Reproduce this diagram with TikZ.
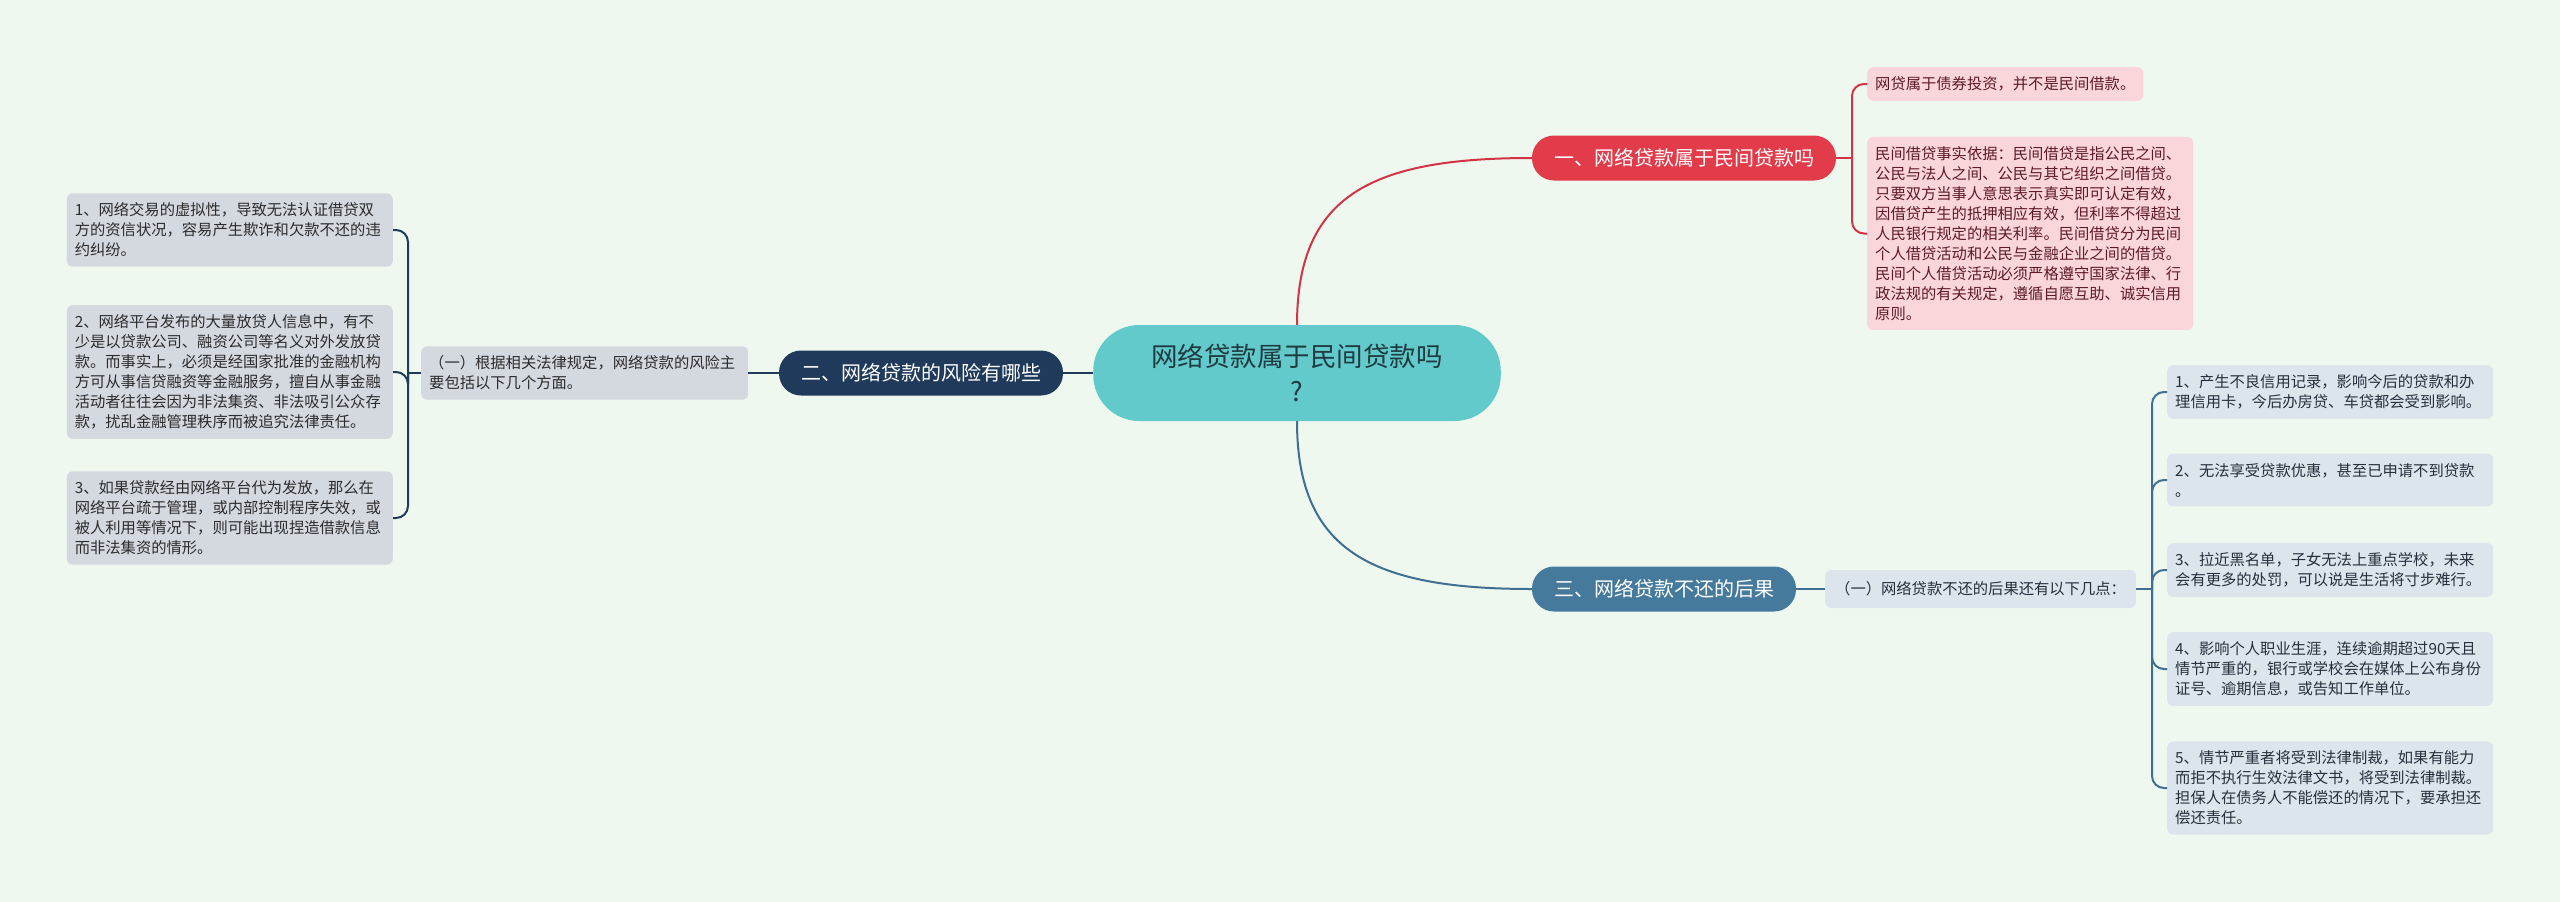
\documentclass[tikz,border=0pt]{standalone}
\usepackage{fontspec}
\newfontfamily\cjk{Noto Sans CJK SC}
\definecolor{bgc}{HTML}{EFF8EF}
\definecolor{centralc}{HTML}{62CACB}
\definecolor{centraltext}{HTML}{1F3A40}
\definecolor{redc}{HTML}{E23C4B}
\definecolor{redline}{HTML}{D23445}
\definecolor{redleafc}{HTML}{FAD5DA}
\definecolor{redtext}{HTML}{5E1B26}
\definecolor{navyc}{HTML}{1F3A5B}
\definecolor{greyc}{HTML}{D4D8DF}
\definecolor{greytext}{HTML}{2C2C2C}
\definecolor{steelc}{HTML}{467A9C}
\definecolor{steelline}{HTML}{3F6F92}
\definecolor{bluec}{HTML}{DCE4EC}
\definecolor{bluetext}{HTML}{26303C}
\begin{document}
\begin{tikzpicture}[x=1pt,y=-1pt,
  base/.style={font=\cjk\fontsize{15.3pt}{20pt}\selectfont, inner xsep=8pt, inner ysep=9.5pt, rounded corners=6pt, align=left},
  wide/.style={text width=310pt},
  redleaf/.style={base, fill=redleafc, text=redtext},
  greyleaf/.style={base, fill=greyc, text=greytext},
  blueleaf/.style={base, fill=bluec, text=bluetext},
  topic/.style={font=\cjk\fontsize{20pt}{24pt}\selectfont, text=white, inner xsep=22pt, inner ysep=0pt, minimum height=45pt, rounded corners=22pt},
  rl/.style={draw=redline, line width=2pt},
  nl/.style={draw=navyc, line width=2pt},
  sl/.style={draw=steelline, line width=2pt},
  br/.style={rounded corners=12pt}
]
\fill[bgc] (0,0) rectangle (2560,902);
\useasboundingbox (0,0) rectangle (2560,902);

% central
\node[fill=centralc, text=centraltext, font=\cjk\fontsize{26.5pt}{35pt}\selectfont, align=center, inner xsep=58pt, inner ysep=0pt, minimum height=96pt, rounded corners=46pt] (central) at (1297,373) {网络贷款属于民间贷款吗\\?};

% topics
\node[topic, fill=redc] (t1) at (1684,158) {一、网络贷款属于民间贷款吗};
\node[topic, fill=navyc] (t2) at (921,373) {二、网络贷款的风险有哪些};
\node[topic, fill=steelc] (t3) at (1664,589) {三、网络贷款不还的后果};

% red leaves
\node[redleaf, anchor=west] (r1) at (1867,84) {网贷属于债券投资，并不是民间借款。};
\node[redleaf, wide, anchor=west] (r2) at (1867,233.5) {民间借贷事实依据：民间借贷是指公民之间、\\公民与法人之间、公民与其它组织之间借贷。\\只要双方当事人意思表示真实即可认定有效，\\因借贷产生的抵押相应有效，但利率不得超过\\人民银行规定的相关利率。民间借贷分为民间\\个人借贷活动和公民与金融企业之间的借贷。\\民间个人借贷活动必须严格遵守国家法律、行\\政法规的有关规定，遵循自愿互助、诚实信用\\原则。};

% left side
\node[greyleaf, wide, text width=311pt, anchor=west] (s2) at (421,373) {（一）根据相关法律规定，网络贷款的风险主\\要包括以下几个方面。};
\node[greyleaf, wide, anchor=east] (l1) at (393,230) {1、网络交易的虚拟性，导致无法认证借贷双\\方的资信状况，容易产生欺诈和欠款不还的违\\约纠纷。};
\node[greyleaf, wide, anchor=east] (l2) at (393,372) {2、网络平台发布的大量放贷人信息中，有不\\少是以贷款公司、融资公司等名义对外发放贷\\款。而事实上，必须是经国家批准的金融机构\\方可从事信贷融资等金融服务，擅自从事金融\\活动者往往会因为非法集资、非法吸引公众存\\款，扰乱金融管理秩序而被追究法律责任。};
\node[greyleaf, wide, anchor=east] (l3) at (393,518) {3、如果贷款经由网络平台代为发放，那么在\\网络平台疏于管理，或内部控制程序失效，或\\被人利用等情况下，则可能出现捏造借款信息\\而非法集资的情形。};

% right-bottom side
\node[blueleaf, anchor=west, inner xsep=10pt, minimum height=38pt] (s3) at (1825,589) {（一）网络贷款不还的后果还有以下几点：};
\node[blueleaf, wide, anchor=west] (b1) at (2167,392) {1、产生不良信用记录，影响今后的贷款和办\\理信用卡，今后办房贷、车贷都会受到影响。};
\node[blueleaf, wide, anchor=west] (b2) at (2167,480) {2、无法享受贷款优惠，甚至已申请不到贷款\\。};
\node[blueleaf, wide, anchor=west] (b3) at (2167,570) {3、拉近黑名单，子女无法上重点学校，未来\\会有更多的处罚，可以说是生活将寸步难行。};
\node[blueleaf, wide, anchor=west] (b4) at (2167,669) {4、影响个人职业生涯，连续逾期超过90天且\\情节严重的，银行或学校会在媒体上公布身份\\证号、逾期信息，或告知工作单位。};
\node[blueleaf, wide, anchor=west] (b5) at (2167,788) {5、情节严重者将受到法律制裁，如果有能力\\而拒不执行生效法律文书，将受到法律制裁。\\担保人在债务人不能偿还的情况下，要承担还\\偿还责任。};

% bracket joints
\coordinate (rb) at (1852,158);
\coordinate (lb) at (408,373);
\coordinate (bb) at (2152,589);

% connectors from central
\draw[rl] (central.north) .. controls +(0,-130) and +(-160,0) .. (t1.west);
\draw[sl] (central.south) .. controls +(0,130) and +(-160,0) .. (t3.west);
\draw[nl] (central.west) -- (t2.east);

% topic 1 bracket
\draw[rl] (t1.east) -- (rb);
\draw[rl, br] (rb) |- (r1.west);
\draw[rl, br] (rb) |- (r2.west);

% topic 2
\draw[nl] (t2.west) -- (s2.east);
\draw[nl] (s2.west) -- (lb);
\draw[nl, br] (lb) |- (l1.east);
\draw[nl, br] (lb) |- (l2.east);
\draw[nl, br] (lb) |- (l3.east);

% topic 3
\draw[sl] (t3.east) -- (s3.west);
\draw[sl] (s3.east) -- (bb);
\foreach \n in {b1,b2,b3,b4,b5}{\draw[sl, br] (bb) |- (\n.west);}
\end{tikzpicture}
\end{document}
